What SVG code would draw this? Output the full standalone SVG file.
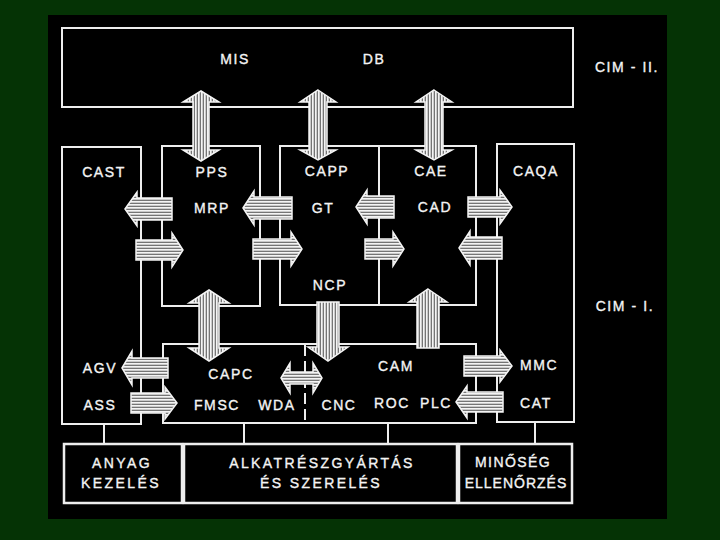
<svg xmlns="http://www.w3.org/2000/svg" width="720" height="540" viewBox="0 0 720 540">
<defs>
<pattern id="hv" patternUnits="userSpaceOnUse" width="3" height="3"><rect width="3" height="3" fill="#f4f4f4"/><rect x="1.8" width="0.8" height="3" fill="#222"/></pattern>
<pattern id="hh" patternUnits="userSpaceOnUse" width="3" height="3"><rect width="3" height="3" fill="#f4f4f4"/><rect y="1.8" width="3" height="0.8" fill="#222"/></pattern>
</defs>
<style>
.box{fill:none;stroke:#eeeeee;stroke-width:2}
.bb{fill:none;stroke:#eeeeee;stroke-width:2.5}
.ln{fill:none;stroke:#eeeeee;stroke-width:2}
.dash{fill:none;stroke:#eeeeee;stroke-width:2;stroke-dasharray:11 5}
.t{font-family:"Liberation Sans","DejaVu Sans",sans-serif;font-size:14px;fill:#f4f4f4;stroke:#f4f4f4;stroke-width:0.35;text-anchor:middle;letter-spacing:1.6px}
.tb{font-family:"Liberation Sans","DejaVu Sans",sans-serif;font-size:14px;fill:#f4f4f4;stroke:#f4f4f4;stroke-width:0.35;text-anchor:middle;letter-spacing:2.4px}
.av{fill:url(#hv);stroke:#f4f4f4;stroke-width:1.5}
.ah{fill:url(#hh);stroke:#f4f4f4;stroke-width:1.5}
</style>
<rect width="720" height="540" fill="#053305"/>
<rect x="48" y="15" width="619" height="504" fill="#000"/>

<g id="mis">
<rect class="box" x="62" y="28" width="511" height="79"/>
<text class="t" x="235" y="64">MIS</text>
<text class="t" x="374" y="64">DB</text>
</g>
<text class="t" x="627" y="72">CIM - II.</text>
<text class="t" x="625" y="311">CIM - I.</text>

<g id="cast">
<rect class="box" x="62" y="147" width="79" height="277"/>
<text class="t" x="104" y="177">CAST</text>
<text class="t" x="100" y="373">AGV</text>
<text class="t" x="100" y="410">ASS</text>
</g>

<g id="pps">
<rect class="box" x="162" y="146" width="98" height="160"/>
<text class="t" x="212" y="177">PPS</text>
<text class="t" x="212" y="213">MRP</text>
</g>

<g id="capp">
<rect class="box" x="280" y="146" width="99" height="159"/>
<text class="t" x="327" y="176">CAPP</text>
<text class="t" x="323" y="213">GT</text>
<text class="t" x="330" y="290">NCP</text>
</g>

<g id="cae">
<rect class="box" x="379" y="146" width="97" height="159"/>
<text class="t" x="431" y="176">CAE</text>
<text class="t" x="435" y="212">CAD</text>
</g>

<g id="caqa">
<rect class="box" x="497" y="144" width="77" height="278"/>
<text class="t" x="536" y="176">CAQA</text>
<text class="t" x="539" y="370">MMC</text>
<text class="t" x="536" y="408">CAT</text>
</g>

<g id="capc">
<rect class="box" x="163" y="344" width="313" height="79"/>
<line class="dash" x1="305" y1="345" x2="305" y2="423"/>
<text class="t" x="231" y="379">CAPC</text>
<text class="t" x="217" y="410">FMSC</text>
<text class="t" x="277" y="410">WDA</text>
<text class="t" x="339" y="410">CNC</text>
<text class="t" x="396" y="371">CAM</text>
<text class="t" x="392" y="408">ROC</text>
<text class="t" x="436" y="408">PLC</text>
</g>

<g id="anyag">
<rect class="bb" x="64" y="444" width="118" height="59"/>
<text class="tb" x="122" y="468">ANYAG</text>
<text class="tb" x="121" y="488">KEZELÉS</text>
</g>
<g id="alkat">
<rect class="bb" x="184" y="444" width="273" height="59"/>
<text class="tb" x="322" y="468">ALKATRÉSZGYÁRTÁS</text>
<text class="tb" x="321" y="488">ÉS SZERELÉS</text>
</g>
<g id="minoseg">
<rect class="bb" x="459" y="444" width="113" height="59"/>
<text class="t" x="513" y="467" style="letter-spacing:1.4px">MINŐSÉG</text>
<text class="t" x="516" y="488" style="letter-spacing:1px">ELLENŐRZÉS</text>
</g>

<g id="connectors">
<line class="ln" x1="104" y1="424" x2="104" y2="444"/>
<line class="ln" x1="244" y1="423" x2="244" y2="444"/>
<line class="ln" x1="388" y1="423" x2="388" y2="444"/>
<line class="ln" x1="535" y1="422" x2="535" y2="444"/>

<polygon class="av" points="201,91 219,102 209,102 209,150 219,150 201,161 183,150 193,150 193,102 183,102"/>
<polygon class="av" points="318,90 336,102 327,102 327,150 336,150 318,160 300,150 309,150 309,102 300,102"/>
<polygon class="av" points="434,90 452,102 443,102 443,150 452,150 434,160 416,150 425,150 425,102 416,102"/>
<polygon class="av" points="209,290 229,303 219,303 219,348 229,348 209,361 189,348 199,348 199,303 189,303"/>
<polygon class="av" points="317,302 339,302 339,347 348,347 328,361 308,347 317,347"/>
<polygon class="av" points="428,289 447,302 439,302 439,348 417,348 417,302 409,302"/>

<polygon class="ah" points="125,209 137,192 137,198 172,198 172,220 137,220 137,226"/>
<polygon class="ah" points="136,240 172,240 172,233 183,250 172,267 172,260 136,260"/>
<polygon class="ah" points="243,208 254,191 254,197 292,197 292,219 254,219 254,225"/>
<polygon class="ah" points="253,239 291,239 291,232 302,249 291,266 291,259 253,259"/>
<polygon class="ah" points="356,207 367,190 367,196 394,196 394,218 367,218 367,224"/>
<polygon class="ah" points="365,239 393,239 393,232 404,249 393,266 393,259 365,259"/>
<polygon class="ah" points="468,197 500,197 500,190 512,207 500,224 500,217 468,217"/>
<polygon class="ah" points="459,248 470,231 470,237 502,237 502,259 470,259 470,265"/>
<polygon class="ah" points="122,368 132,351 132,358 168,358 168,378 132,378 132,385"/>
<polygon class="ah" points="131,393 165,393 165,387 177,403 165,419 165,413 131,413"/>
<polygon class="ah" points="281,378 290,363 290,372 313,372 313,363 322,378 313,393 313,384 290,384 290,393"/>
<polygon class="ah" points="464,356 500,356 500,350 512,366 500,382 500,376 464,376"/>
<polygon class="ah" points="456,402 467,386 467,392 503,392 503,412 467,412 467,418"/>
</g>
</svg>
